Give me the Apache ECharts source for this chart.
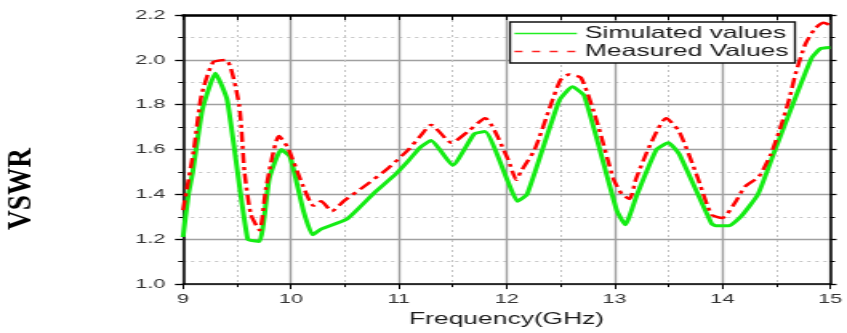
<!DOCTYPE html>
<html>
<head>
<meta charset="utf-8">
<script src="https://cdn.jsdelivr.net/npm/echarts@6/dist/echarts.min.js"></script>
<style>
  html, body { margin: 0; padding: 0; background: #fff; overflow: hidden; }
  /* the chart is laid out narrow and widened horizontally */
  #chart { width: 529px; height: 333px; transform: scaleX(1.6011); transform-origin: 0 0; }
</style>
</head>
<body>
<div id="chart"></div>
<script>
// Simulated VSWR across the band
const simFreq = [9.00, 9.05, 9.09, 9.18, 9.30, 9.41, 9.60, 9.71, 9.80, 9.91, 9.99, 10.05, 10.12, 10.20,
  10.28, 10.52, 10.78, 10.97, 11.09, 11.20, 11.30, 11.50, 11.70, 11.80, 12.01, 12.10, 12.19, 12.49,
  12.61, 12.72, 13.02, 13.10, 13.21, 13.39, 13.50, 13.60, 13.90, 13.94, 14.06, 14.17, 14.33, 14.49,
  14.66, 14.83, 14.91, 15.00];
const simVswr = [1.21, 1.40, 1.50, 1.78, 1.94, 1.82, 1.20, 1.19, 1.47, 1.60, 1.57, 1.46, 1.32, 1.22,
  1.245, 1.29, 1.41, 1.49, 1.55, 1.61, 1.64, 1.53, 1.67, 1.68, 1.46, 1.37, 1.40, 1.82,
  1.88, 1.84, 1.33, 1.265, 1.40, 1.60, 1.63, 1.58, 1.27, 1.26, 1.26, 1.30, 1.40, 1.60,
  1.81, 2.01, 2.05, 2.055];

// Measured VSWR across the band
const measFreq = [9.00, 9.10, 9.17, 9.28, 9.40, 9.52, 9.57, 9.63, 9.71, 9.77, 9.89, 9.97, 10.11, 10.21,
  10.28, 10.38, 10.49, 10.72, 10.91, 11.09, 11.20, 11.30, 11.49, 11.64, 11.80, 12.01, 12.09, 12.13,
  12.26, 12.41, 12.50, 12.58, 12.69, 12.84, 12.99, 13.07, 13.14, 13.20, 13.33, 13.48, 13.60, 13.76,
  13.90, 14.00, 14.12, 14.21, 14.34, 14.45, 14.54, 14.62, 14.68, 14.77, 14.86, 14.94, 15.00];
const measVswr = [1.33, 1.60, 1.84, 1.99, 2.00, 1.80, 1.50, 1.31, 1.24, 1.43, 1.66, 1.61, 1.44, 1.35,
  1.37, 1.325, 1.37, 1.45, 1.52, 1.60, 1.66, 1.71, 1.63, 1.68, 1.74, 1.56, 1.465, 1.50,
  1.60, 1.80, 1.91, 1.935, 1.92, 1.72, 1.47, 1.40, 1.38, 1.47, 1.62, 1.74, 1.68, 1.49,
  1.31, 1.295, 1.365, 1.435, 1.48, 1.58, 1.70, 1.825, 1.94, 2.07, 2.14, 2.165, 2.155];

const seriesNames = ['Simulated values', 'Measured Values'];
const xTitle = 'Frequency(GHz)';
const yTitle = 'VSWR';

const SX = 1.6011; // horizontal widening applied to the container

const pairs = (xs, ys) => xs.map((x, i) => [x, ys[i]]);

const labelFont = { fontFamily: 'Liberation Sans, Arial, sans-serif', fontSize: 13.5, color: '#333' };
const majorSplit = { show: true, lineStyle: { color: '#a0a0a0', width: 1.4 } };
const minorSplit = { show: true, lineStyle: { color: '#c4c4c4', width: 1, type: [2, 3] } };

const chart = echarts.init(document.getElementById('chart'), null, { renderer: 'canvas' });
chart.setOption({
  animation: false,
  backgroundColor: '#fff',
  grid: { left: 183 / SX, right: 12 / SX, top: 15, bottom: 46 },
  legend: {
    left: 510 / SX, top: 22,
    orient: 'vertical',
    backgroundColor: '#fff',
    borderColor: '#111', borderWidth: 1.3, borderRadius: 0,
    padding: [3, 4, 3, 2],
    itemGap: 1, itemWidth: 39, itemHeight: 14,
    // legend keys are plain line samples, no marker
    itemStyle: { color: 'transparent', borderWidth: 0, opacity: 0 },
    textStyle: { fontFamily: 'Liberation Sans, Arial, sans-serif', fontSize: 16.5, color: '#1a1a1a', lineHeight: 16 },
    data: [
      { name: seriesNames[0], lineStyle: { width: 1.6, color: '#22ee22' } },
      { name: seriesNames[1], lineStyle: { width: 1.6, color: '#ff2020', type: [5, 6] } }
    ]
  },
  xAxis: [
    {
      type: 'value', position: 'bottom', min: 9, max: 15, interval: 1,
      axisLine: { show: true, onZero: false, lineStyle: { color: '#000', width: 1.5 } },
      axisTick: { show: true, inside: false, length: 5, lineStyle: { color: '#000', width: 1 } },
      minorTick: { show: true, splitNumber: 2, length: 3, lineStyle: { color: '#000', width: 1 } },
      splitLine: majorSplit,
      minorSplitLine: minorSplit,
      axisLabel: Object.assign({ margin: 8 }, labelFont),
      name: xTitle, nameLocation: 'middle', nameGap: 24,
      nameTextStyle: { fontFamily: 'Liberation Sans, Arial, sans-serif', fontSize: 16.5, color: '#1a1a1a' }
    },
    {
      type: 'value', position: 'top', min: 9, max: 15, interval: 0.5,
      axisLine: { show: true, onZero: false, lineStyle: { color: '#000', width: 2.5 } },
      axisTick: { show: true, inside: true, length: 5, lineStyle: { color: '#000', width: 1 } },
      axisLabel: { show: false }, splitLine: { show: false }
    }
  ],
  yAxis: [
    {
      type: 'value', position: 'left', min: 1.0, max: 2.2, interval: 0.2,
      axisLine: { show: true, onZero: false, lineStyle: { color: '#000', width: 1.5 } },
      axisTick: { show: true, inside: false, length: 5, lineStyle: { color: '#000', width: 1.3 } },
      minorTick: { show: true, splitNumber: 2, length: 3, lineStyle: { color: '#000', width: 1 } },
      splitLine: majorSplit,
      minorSplitLine: minorSplit,
      axisLabel: Object.assign({ margin: 11, formatter: v => v.toFixed(1) }, labelFont)
    },
    {
      type: 'value', position: 'right', min: 1.0, max: 2.2, interval: 0.2,
      axisLine: { show: true, onZero: false, lineStyle: { color: '#000', width: 1.5 } },
      axisTick: { show: true, inside: false, length: 4, lineStyle: { color: '#000', width: 1.3 } },
      minorTick: { show: true, splitNumber: 2, length: 3, lineStyle: { color: '#000', width: 1 } },
      axisLabel: { show: false }, splitLine: { show: false }
    }
  ],
  graphic: [
    {
      type: 'text',
      x: 21.5 / SX, y: 189,
      rotation: Math.PI / 2,
      scaleX: 1.24,
      style: {
        text: yTitle,
        font: 'bold 22px "Liberation Serif", "Times New Roman", serif',
        fill: '#000',
        textAlign: 'center', textVerticalAlign: 'middle'
      }
    }
  ],
  series: [
    {
      name: seriesNames[0], type: 'line', xAxisIndex: 0, yAxisIndex: 0,
      data: pairs(simFreq, simVswr),
      symbol: 'none', smooth: 0.15,
      lineStyle: { color: '#14ec14', width: 3 },
      itemStyle: { color: '#14ec14' },
      z: 3
    },
    {
      name: seriesNames[1], type: 'line', xAxisIndex: 0, yAxisIndex: 0,
      data: pairs(measFreq, measVswr),
      symbol: 'none', smooth: 0.2,
      lineStyle: { color: '#ff0000', width: 2.5, type: [10, 4, 3, 4] },
      itemStyle: { color: '#ff0000' },
      z: 4
    }
  ]
});
</script>
</body>
</html>
